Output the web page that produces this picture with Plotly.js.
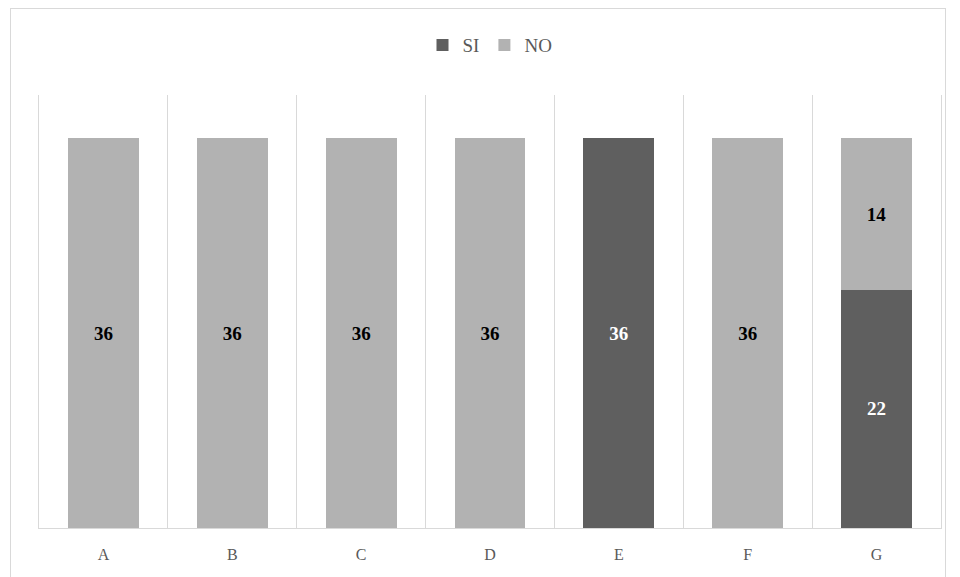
<!DOCTYPE html>
<html>
<head>
<meta charset="utf-8">
<script src="https://cdn.plot.ly/plotly-3.0.1.min.js"></script>
<style>
body{margin:0;padding:0;background:#fff;}
#frame{position:absolute;left:10px;top:8px;width:936px;height:600px;border:1px solid #d9d9d9;box-sizing:border-box;}
#chart{position:absolute;left:0;top:0;width:960px;height:577px;}
</style>
</head>
<body>
<div id="frame"></div>
<div id="chart"></div>
<script>
const categories = ['A','B','C','D','E','F','G'];
const siValues = [0,0,0,0,36,0,22];
const noValues = [36,36,36,36,0,36,14];

const lbl = v => v.map(x => x > 0 ? String(x) : '');

const traces = [
  {type:'bar', name:'SI', x:categories, y:siValues, text:lbl(siValues),
   textposition:'inside', insidetextanchor:'middle', constraintext:'none',
   textfont:{family:'Liberation Serif, Times New Roman, serif', size:19, color:'#ffffff', weight:'bold'},
   marker:{color:'#5f5f5f'}, hoverinfo:'skip'},
  {type:'bar', name:'NO', x:categories, y:noValues, text:lbl(noValues),
   textposition:'inside', insidetextanchor:'middle', constraintext:'none',
   textfont:{family:'Liberation Serif, Times New Roman, serif', size:19, color:'#000000', weight:'bold'},
   marker:{color:'#b2b2b2'}, hoverinfo:'skip'}
];

const layout = {
  width:960, height:577,
  margin:{l:39, r:19, t:95, b:49},
  paper_bgcolor:'rgba(0,0,0,0)', plot_bgcolor:'rgba(0,0,0,0)',
  barmode:'stack', bargap:0.45,
  font:{family:'Liberation Serif, Times New Roman, serif', color:'#595959', size:16},
  showlegend:true,
  legend:{orientation:'h', traceorder:'normal', x:0.5, xanchor:'center', y:1.115, yanchor:'middle',
          font:{size:19, color:'#595959'}, itemwidth:30, tracegroupgap:0},
  xaxis:{type:'category', tickson:'boundaries', showgrid:true, gridcolor:'#d9d9d9', gridwidth:1,
         ticks:'', showline:true, linecolor:'#d9d9d9', linewidth:1, zeroline:false,
         ticklabelstandoff:12,
         tickfont:{size:16, color:'#595959'}, fixedrange:true},
  yaxis:{range:[0,40], showgrid:false, showticklabels:false, zeroline:false,
         showline:true, mirror:true, linecolor:'#d9d9d9', linewidth:1, ticks:'', fixedrange:true}
};

Plotly.newPlot('chart', traces, layout, {displayModeBar:false, staticPlot:true});
</script>
</body>
</html>
